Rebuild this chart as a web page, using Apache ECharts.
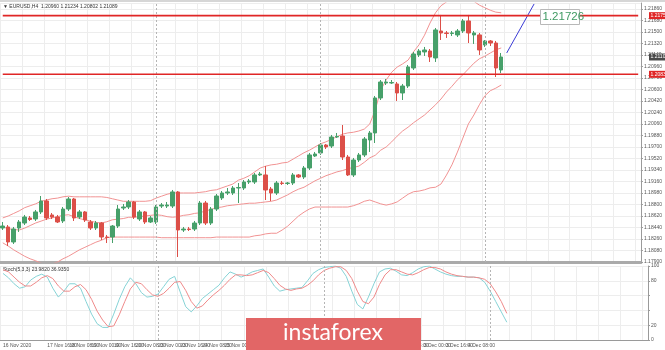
<!DOCTYPE html>
<html><head><meta charset="utf-8">
<script src="https://cdn.jsdelivr.net/npm/echarts@6/dist/echarts.min.js"></script>
<style>html,body{margin:0;padding:0;background:#fff}#c{width:665px;height:350px}</style>
</head><body><div id="c"></div>
<script>
const tickLabels = ["16 Nov 2020","17 Nov 00:00","17 Nov 16:00","18 Nov 08:00","19 Nov 00:00","19 Nov 16:00","20 Nov 08:00","23 Nov 00:00","23 Nov 16:00","24 Nov 08:00","25 Nov 00:00","25 Nov 16:00","26 Nov 08:00","27 Nov 00:00","27 Nov 16:00","30 Nov 08:00","1 Dec 00:00","1 Dec 16:00","2 Dec 08:00","3 Dec 00:00","3 Dec 16:00","4 Dec 08:00","7 Dec 00:00"];
const opens = [1.18432,1.18448,1.18213,1.18432,1.18510,1.18589,1.18573,1.18683,1.18855,1.18636,1.18604,1.18542,1.18729,1.18886,1.18604,1.18683,1.18526,1.18432,1.18510,1.18291,1.18291,1.18463,1.18745,1.18761,1.18839,1.18573,1.18683,1.18526,1.18526,1.18776,1.18776,1.18776,1.18996,1.18401,1.18416,1.18416,1.18510,1.18823,1.18510,1.18729,1.18902,1.18980,1.18980,1.19058,1.19058,1.19152,1.19152,1.19262,1.19262,1.19042,1.18980,1.19136,1.19129,1.19136,1.19262,1.19230,1.19371,1.19559,1.19606,1.19731,1.19715,1.19856,1.19872,1.19543,1.19262,1.19496,1.19575,1.19809,1.19919,1.20467,1.20701,1.20701,1.20686,1.20545,1.20654,1.20936,1.21140,1.21187,1.21202,1.21093,1.21515,1.21484,1.21476,1.21453,1.21515,1.21672,1.21453,1.21453,1.21296,1.21359,1.21327,1.20905];
const closes = [1.18463,1.18213,1.18416,1.18526,1.18604,1.18565,1.18683,1.18855,1.18589,1.18604,1.18526,1.18729,1.18886,1.18589,1.18683,1.18557,1.18432,1.18510,1.18291,1.18283,1.18463,1.18729,1.18761,1.18839,1.18604,1.18683,1.18526,1.18589,1.18761,1.18792,1.18792,1.18996,1.18401,1.18416,1.18409,1.18510,1.18823,1.18510,1.18729,1.18933,1.18980,1.18996,1.19058,1.19066,1.19152,1.19168,1.19262,1.19277,1.19027,1.18980,1.19136,1.19129,1.19136,1.19262,1.19230,1.19371,1.19575,1.19590,1.19731,1.19700,1.19856,1.19864,1.19543,1.19262,1.19496,1.19575,1.19825,1.19919,1.20467,1.20717,1.20717,1.20709,1.20545,1.20654,1.20952,1.21155,1.21202,1.21218,1.21108,1.21531,1.21484,1.21476,1.21484,1.21515,1.21672,1.21484,1.21484,1.21218,1.21359,1.21327,1.20936,1.21108];
const lows = [1.18401,1.18150,1.18182,1.18370,1.18479,1.18542,1.18542,1.18651,1.18557,1.18573,1.18510,1.18510,1.18698,1.18542,1.18573,1.18526,1.18401,1.18401,1.18244,1.18197,1.18197,1.18432,1.18714,1.18729,1.18573,1.18542,1.18495,1.18510,1.18495,1.18745,1.18745,1.18745,1.17978,1.18370,1.18385,1.18385,1.18479,1.18479,1.18479,1.18698,1.18870,1.18949,1.18949,1.18823,1.19027,1.19121,1.19121,1.19246,1.18870,1.18855,1.18949,1.19105,1.19105,1.19105,1.19215,1.19199,1.19340,1.19543,1.19575,1.19668,1.19684,1.19841,1.19496,1.19246,1.19230,1.19465,1.19543,1.19622,1.19762,1.20435,1.20670,1.20686,1.20420,1.20435,1.20623,1.20905,1.21108,1.21124,1.21030,1.21030,1.21374,1.21406,1.21437,1.21421,1.21484,1.21327,1.21312,1.21140,1.21265,1.21280,1.20795,1.20858];
const highs = [1.18526,1.18479,1.18448,1.18557,1.18636,1.18620,1.18714,1.18933,1.18886,1.18667,1.18636,1.18761,1.18917,1.18902,1.18714,1.18698,1.18557,1.18542,1.18526,1.18323,1.18479,1.18792,1.18808,1.18870,1.18855,1.18714,1.18698,1.18620,1.18792,1.18823,1.18839,1.19027,1.19011,1.18448,1.18448,1.18542,1.18855,1.18855,1.18761,1.18964,1.19011,1.19058,1.19089,1.19136,1.19183,1.19199,1.19293,1.19309,1.19402,1.19074,1.19168,1.19168,1.19152,1.19293,1.19277,1.19402,1.19606,1.19622,1.19762,1.19747,1.19888,1.19919,1.20044,1.19575,1.19528,1.19606,1.19856,1.19950,1.20498,1.20748,1.20764,1.20748,1.20717,1.20686,1.20983,1.21187,1.21233,1.21265,1.21233,1.21562,1.21766,1.21515,1.21515,1.21546,1.21703,1.21766,1.21515,1.21484,1.21374,1.21374,1.21359,1.21171];
const bbUpper = [1.1859,1.1862,1.1866,1.1870,1.1875,1.1878,1.1881,1.1885,1.1887,1.1889,1.1890,1.1892,1.1893,1.1892,1.1892,1.1892,1.1892,1.1892,1.1892,1.1891,1.1889,1.1887,1.1885,1.1885,1.1885,1.1885,1.1885,1.1886,1.1890,1.1893,1.1896,1.1898,1.1898,1.1898,1.1898,1.1898,1.1899,1.1900,1.1902,1.1903,1.1906,1.1909,1.1912,1.1918,1.1921,1.1925,1.1931,1.1937,1.1940,1.1942,1.1943,1.1945,1.1946,1.1951,1.1956,1.1961,1.1965,1.1970,1.1975,1.1978,1.1982,1.1986,1.1990,1.1992,1.1993,1.1995,1.1998,1.2006,1.2028,1.2059,1.2075,1.2087,1.2095,1.2100,1.2106,1.2119,1.2130,1.2145,1.2164,1.2180,1.2191,1.2197,1.2203,1.2206,1.2208,1.2205,1.2198,1.2192,1.2188,1.2184,1.2181,1.2180];
const bbMiddle = [1.1845,1.1842,1.1841,1.1840,1.1843,1.1847,1.1851,1.1854,1.1857,1.1859,1.1861,1.1863,1.1864,1.1861,1.1858,1.1856,1.1854,1.1852,1.1851,1.1853,1.1856,1.1857,1.1858,1.1860,1.1860,1.1861,1.1862,1.1863,1.1864,1.1863,1.1861,1.1860,1.1861,1.1863,1.1864,1.1866,1.1867,1.1870,1.1872,1.1875,1.1876,1.1878,1.1879,1.1880,1.1881,1.1882,1.1882,1.1883,1.1884,1.1885,1.1887,1.1891,1.1895,1.1900,1.1904,1.1907,1.1912,1.1917,1.1921,1.1925,1.1928,1.1931,1.1933,1.1936,1.1938,1.1940,1.1946,1.1953,1.1957,1.1965,1.1970,1.1978,1.1987,1.1995,1.2001,1.2008,1.2014,1.2020,1.2028,1.2036,1.2045,1.2056,1.2065,1.2075,1.2083,1.2092,1.2101,1.2108,1.2112,1.2117,1.2122,1.2125];
const bbLower = [1.1820,1.1815,1.1809,1.1804,1.1799,1.1795,1.1792,1.1788,1.1787,1.1787,1.1790,1.1795,1.1799,1.1804,1.1809,1.1813,1.1817,1.1821,1.1824,1.1828,1.1829,1.1829,1.1829,1.1829,1.1829,1.1829,1.1829,1.1829,1.1829,1.1828,1.1828,1.1828,1.1828,1.1828,1.1828,1.1828,1.1828,1.1828,1.1828,1.1829,1.1829,1.1829,1.1829,1.1829,1.1829,1.1829,1.1831,1.1832,1.1834,1.1835,1.1835,1.1840,1.1846,1.1854,1.1862,1.1868,1.1873,1.1876,1.1876,1.1876,1.1876,1.1876,1.1876,1.1876,1.1878,1.1881,1.1885,1.1887,1.1884,1.1881,1.1879,1.1881,1.1884,1.1890,1.1896,1.1900,1.1901,1.1903,1.1906,1.1907,1.1912,1.1926,1.1942,1.1962,1.1984,1.2006,1.2020,1.2036,1.2050,1.2058,1.2062,1.2067];
const stochMain = [90,84,76,70,72,81,86,89,85,70,58,66,76,76,70,52,35,22,17,17,35,55,72,84,76,64,58,59,62,72,82,86,65,45,38,46,56,62,68,74,84,92,89,85,88,92,94,96,85,73,66,68,69,70,71,80,90,95,98,99,100,97,86,66,48,42,58,76,92,96,97,93,88,87,91,96,99,100,96,92,89,87,86,86,85,85,84,78,66,52,38,24];
const stochSignal = [95,92,85,78,73,73,78,84,87,83,73,66,66,72,75,68,55,39,27,18,19,34,52,69,78,76,68,61,59,63,70,78,79,67,52,43,46,54,61,67,74,82,88,88,87,88,91,94,91,83,74,69,67,69,70,74,80,88,94,97,99,99,94,83,66,52,49,58,75,88,95,95,92,89,88,91,95,98,98,96,92,89,87,86,85,85,84,82,76,65,52,36];
const resistance = 1.21755, support = 1.20837, lastPrice = 1.21108;
const annotationText = "1.21726";
const trendLine = [["92", 1.21171], ["97", 1.21938]];
const weekStarts = ["28", "58", "88"];
const slotCount = 117;
const headerText = "\u25BC EURUSD,H4  1.20960 1.21234 1.20802 1.21089";
const stochText = "Stoch(5,3,3) 23.9820 36.9350";

const cats = Array.from({length: slotCount}, (_, i) => String(i));
const candles = opens.map((o, i) => [o, closes[i], lows[i], highs[i]]);
const UP = '#47a06a', DN = '#dc4f48', BAND = '#f19393', GRID = '#ededed', AX = '#9a9a9a', LEVEL = '#e02626';
const FONT = 'Liberation Sans, Arial, sans-serif';

const chart = echarts.init(document.getElementById('c'), null, {renderer: 'canvas'});
const weekLine = {
  symbol: 'none', silent: true, animation: false,
  label: {show: false},
  lineStyle: {color: '#b5b5b5', type: [2, 2], width: 1},
  data: weekStarts.map(w => ({xAxis: w}))
};
const levelSeries = (v) => ({
  type: 'line', xAxisIndex: 0, yAxisIndex: 0, silent: true, symbol: 'none', z: 5,
  data: [[cats[0], v], [cats[slotCount - 1], v]],
  lineStyle: {color: LEVEL, width: 1.6}
});

chart.setOption({
  animation: false,
  backgroundColor: '#ffffff',
  grid: [
    {left: 0, top: 3, width: 648, height: 259},
    {left: 0, top: 266, width: 648, height: 74}
  ],
  xAxis: [
    {type: 'category', gridIndex: 0, data: cats, boundaryGap: true,
      axisLine: {show: true, lineStyle: {color: '#aaaaaa', width: 3}}, axisTick: {show: false}, axisLabel: {show: false},
      splitLine: {show: true, interval: (i) => i % 4 === 0, lineStyle: {color: GRID, width: 1}}},
    {type: 'category', gridIndex: 1, data: cats, boundaryGap: true,
      axisLine: {show: true, lineStyle: {color: AX}},
      axisTick: {show: false},
      axisLabel: {show: true, fontSize: 5, color: '#555', align: 'left', margin: 3, fontFamily: FONT,
        showMinLabel: true,
        interval: (i) => i % 4 === 0 && (i / 4) < tickLabels.length,
        formatter: (v) => tickLabels[Number(v) / 4] || ''},
      splitLine: {show: true, interval: (i) => i % 4 === 0, lineStyle: {color: GRID, width: 1}}}
  ],
  yAxis: [
    {type: 'value', gridIndex: 0, position: 'right', min: 1.179, max: 1.21953, interval: 0.0018,
      axisLine: {show: true, lineStyle: {color: AX}}, axisTick: {show: true, length: 2, lineStyle: {color: AX}},
      axisLabel: {fontSize: 5, color: '#555', margin: 3, showMaxLabel: false, fontFamily: FONT, formatter: v => v.toFixed(5)},
      splitLine: {show: true, lineStyle: {color: GRID}}},
    {type: 'value', gridIndex: 1, position: 'right', min: 0, max: 100, interval: 20,
      axisLine: {show: true, lineStyle: {color: AX}}, axisTick: {show: true, length: 2, lineStyle: {color: AX}},
      axisLabel: {fontSize: 5, color: '#555', margin: 3, fontFamily: FONT, formatter: v => (v === 40 || v === 60) ? '' : String(v)},
      splitLine: {show: true, lineStyle: {color: GRID}}}
  ],
  series: [
    {type: 'line', name: 'bbUpper', xAxisIndex: 0, yAxisIndex: 0, data: bbUpper, symbol: 'none', silent: true,
      lineStyle: {color: BAND, width: 1}, z: 2},
    {type: 'line', name: 'bbMiddle', xAxisIndex: 0, yAxisIndex: 0, data: bbMiddle, symbol: 'none', silent: true,
      lineStyle: {color: BAND, width: 1}, z: 2},
    {type: 'line', name: 'bbLower', xAxisIndex: 0, yAxisIndex: 0, data: bbLower, symbol: 'none', silent: true,
      lineStyle: {color: BAND, width: 1}, z: 2},
    {type: 'candlestick', name: 'EURUSD', xAxisIndex: 0, yAxisIndex: 0, data: candles, barWidth: 4, z: 3,
      itemStyle: {color: UP, color0: DN, borderColor: UP, borderColor0: DN, borderWidth: 1},
      markLine: weekLine},
    levelSeries(resistance),
    levelSeries(support),
    {type: 'line', name: 'trend', xAxisIndex: 0, yAxisIndex: 0, data: trendLine, symbol: 'none', silent: true,
      lineStyle: {color: '#3b3bd6', width: 1}, z: 4},
    {type: 'line', name: 'stochMain', xAxisIndex: 1, yAxisIndex: 1, data: stochMain, symbol: 'none', silent: true,
      lineStyle: {color: '#86d3d6', width: 1}, z: 3, markLine: weekLine},
    {type: 'line', name: 'stochSignal', xAxisIndex: 1, yAxisIndex: 1, data: stochSignal, symbol: 'none', silent: true,
      lineStyle: {color: '#ef8a8a', width: 1}, z: 3}
  ]
});

// price tags on the right axis, positioned through the axis scale
const tag = (v, bg) => {
  const y = chart.convertToPixel({yAxisIndex: 0}, v);
  return {type: 'group', left: 649, top: y - 3.5, silent: true, z: 100, children: [
    {type: 'rect', z: 100, shape: {x: 0, y: 0, width: 16, height: 7}, style: {fill: bg}},
    {type: 'text', z: 101, x: 1.5, y: 1, style: {text: v.toFixed(5), fontSize: 5, fill: '#fff', fontFamily: FONT}}
  ]};
};
chart.setOption({
  graphic: [
    {type: 'rect', left: 0, top: 0, shape: {width: 665, height: 2}, style: {fill: '#d6d6d6'}, silent: true},
    {type: 'text', left: 3, top: 4, style: {text: headerText, fontSize: 5, fill: '#333', fontFamily: FONT}, silent: true},
    {type: 'text', left: 3, top: 267, style: {text: stochText, fontSize: 5, fill: '#333', fontFamily: FONT}, silent: true},
    tag(resistance, LEVEL),
    tag(support, LEVEL),
    tag(lastPrice, '#4a4a4a'),
    {type: 'group', left: 540, top: 9, silent: true, z: 100, children: [
      {type: 'rect', z: 100, shape: {x: 0, y: 0, width: 39, height: 15}, style: {fill: '#ffffff', stroke: '#b8b8b8', lineWidth: 1}},
      {type: 'text', z: 101, x: 2, y: 1.5, style: {text: annotationText, fontSize: 11.5, fill: '#3f9a62', fontFamily: FONT}}
    ]},
    {type: 'group', left: 246, top: 318, silent: true, z: 100, children: [
      {type: 'rect', z: 100, shape: {x: 0, y: 0, width: 175, height: 32}, style: {fill: '#e26666'}},
      {type: 'text', z: 101, x: 87, y: 15, style: {text: 'instaforex', fontSize: 23, fill: '#ffffff', fontFamily: 'Lato, Open Sans, sans-serif', align: 'center', verticalAlign: 'middle'}}
    ]}
  ]
});
</script></body></html>
